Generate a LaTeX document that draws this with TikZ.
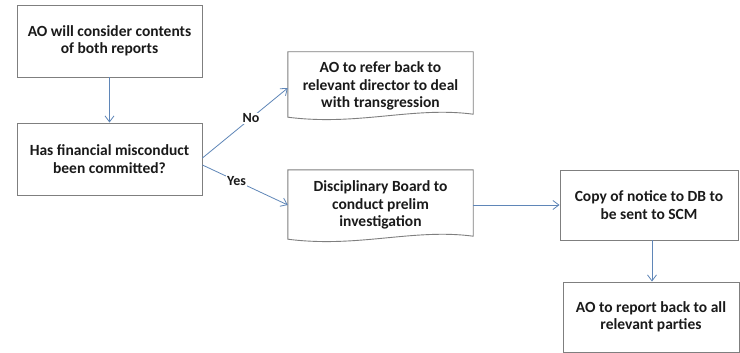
\documentclass[tikz,border=0pt]{standalone}
\usepackage{fontspec}
\setmainfont{Carlito}
\usetikzlibrary{arrows.meta,calc}
\definecolor{linecol}{HTML}{5F86B8}
\definecolor{boxcol}{HTML}{7F7F7F}
\definecolor{txtcol}{HTML}{1A1A1A}
\tikzset{
  txt/.style={align=center,text=txtcol,font=\fontsize{15.5}{17.5}\selectfont\bfseries,inner sep=0pt},
  procbox/.style={txt,draw=boxcol,line width=0.9pt,fill=white},
  docbox/.style={txt},
  conn/.style={draw=linecol,line width=0.8pt,-{Straight Barb[length=6pt,width=9pt]}},
  lbl/.style={fill=white,inner sep=1pt,text=txtcol,font=\fontsize{14}{16}\selectfont\bfseries},
  docline/.style={draw=boxcol,line width=0.9pt,fill=white}
}
\newcommand{\docshape}[1]{%
  \path[docline] ($(#1.south west)+(0,-1)$) -- (#1.north west) -- (#1.north east) -- ($(#1.south east)+(0,-4)$)
    .. controls ($(#1.south east)+(-60,-12)$) and ($(#1.south west)+(70,8)$) .. ($(#1.south west)+(0,-1)$) -- cycle;}
\begin{document}
\begin{tikzpicture}[x=1pt,y=-1pt]
\useasboundingbox[fill=white] (0,0) rectangle (740,353);
\node[procbox,minimum width=185pt,minimum height=72pt] (b1) at (109.5,41) {AO will consider contents\\of both reports};
\node[procbox,minimum width=185pt,minimum height=72pt] (b2) at (109.5,159) {Has financial misconduct\\been committed?};
\node[docbox,minimum width=185pt,minimum height=66pt] (d1) at (380.5,85) {};
\docshape{d1}
\node[txt] (d1t) at (380.5,86) {AO to refer back to\\relevant director to deal\\with transgression};
\node[docbox,minimum width=185pt,minimum height=70pt] (d2) at (380.5,205) {};
\docshape{d2}
\node[txt] (d2t) at (380.5,205) {Disciplinary Board to\\conduct prelim\\investigation};
\node[procbox,minimum width=178pt,minimum height=70pt] (c1) at (649,205) {Copy of notice to DB to\\be sent to SCM};
\node[procbox,minimum width=176pt,minimum height=70pt] (r1) at (651,317) {AO to report back to all\\relevant parties};
\draw[conn] (b1) -- (b2);
\draw[conn] ($(b2.east)+(0,-1)$) -- node[lbl,pos=0.57] (no) {No} ($(d1.west)+(0,3)$);
\draw[conn] ($(b2.east)+(0,6)$) -- node[lbl,pos=0.4] (yes) {Yes} (d2.west);
\draw[conn] (d2.east) -- (c1.west);
\coordinate (cs) at ($(c1.south)+(3,0)$);
\draw[conn] (cs) -- (cs |- r1.north);
\end{tikzpicture}
\end{document}
